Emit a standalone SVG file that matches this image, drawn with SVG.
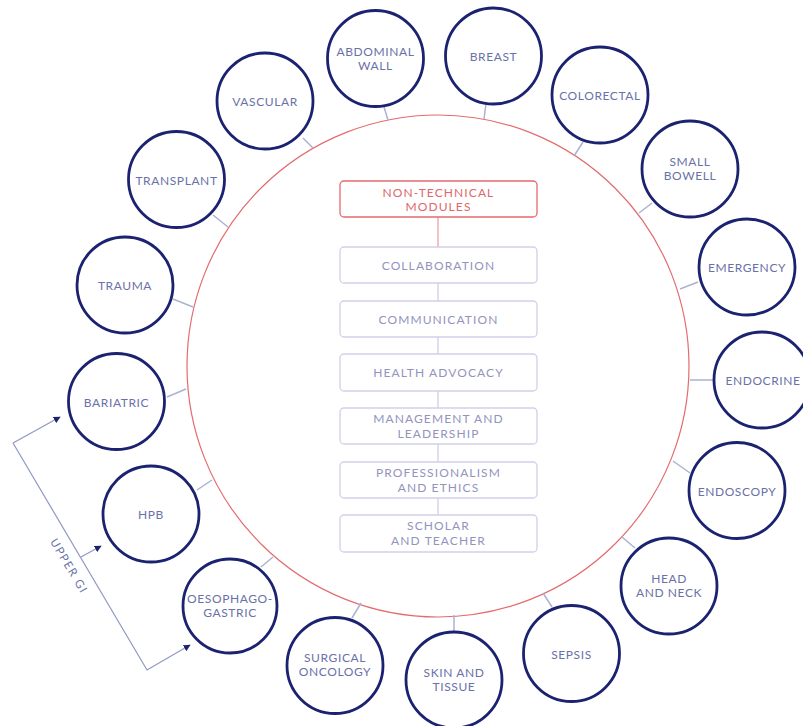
<svg xmlns="http://www.w3.org/2000/svg" width="803" height="726" viewBox="0 0 803 726">
<defs>
<style>
.bg{fill:#ffffff}
.ring{fill:none;stroke:#e46b6e;stroke-width:1.2}
.node circle{fill:#ffffff;stroke:#1b2270;stroke-width:2.8}
.node text{font-family:Lato,"Open Sans","Liberation Sans",sans-serif;font-size:12px;letter-spacing:0.6px;fill:#6a71a8;text-anchor:middle}
.spoke{stroke:#aab3d0;stroke-width:1.5;fill:none}
.box rect{fill:#ffffff;stroke:#d2d0e8;stroke-width:1.3}
.box text{font-family:Lato,"Open Sans","Liberation Sans",sans-serif;font-size:12px;letter-spacing:1.1px;fill:#9393be;text-anchor:middle}
.redbox rect{stroke:#e46b6e}
.redbox text{fill:#e0676b}
.link{stroke:#cfcde6;stroke-width:1.3}
.redlink{stroke:#eda0a3;stroke-width:1.3}
.bracket{stroke:#8f98c4;stroke-width:1.2;fill:none}
.blabel{font-family:Lato,"Open Sans","Liberation Sans",sans-serif;font-size:11.5px;letter-spacing:1.4px;fill:#6a71a8;text-anchor:middle}
</style>
<marker id="arr" viewBox="0 0 10 10" refX="9" refY="5" markerWidth="7" markerHeight="7" markerUnits="userSpaceOnUse" orient="auto">
<path d="M0,0 L10,5 L0,10 z" fill="#1b2270"/>
</marker>
</defs>
<rect class="bg" x="0" y="0" width="803" height="726"/>
<circle class="ring" cx="438" cy="366" r="251"/>
<g id="connectors">
<line class="spoke" x1="384" y1="107" x2="388" y2="120"/>
<line class="spoke" x1="486" y1="104" x2="484" y2="119"/>
<line class="spoke" x1="583" y1="142" x2="574" y2="156"/>
<line class="spoke" x1="303" y1="138" x2="313" y2="148"/>
<line class="spoke" x1="652" y1="203" x2="639" y2="213"/>
<line class="spoke" x1="698" y1="282" x2="680" y2="289"/>
<line class="spoke" x1="714" y1="380" x2="690" y2="380"/>
<line class="spoke" x1="690" y1="473" x2="673" y2="461"/>
<line class="spoke" x1="635" y1="548" x2="622" y2="537"/>
<line class="spoke" x1="552" y1="607" x2="543" y2="593"/>
<line class="spoke" x1="454" y1="632" x2="454" y2="615"/>
<line class="spoke" x1="352" y1="618" x2="361" y2="603"/>
<line class="spoke" x1="261" y1="567" x2="273" y2="557"/>
<line class="spoke" x1="197" y1="490" x2="212" y2="480"/>
<line class="spoke" x1="167" y1="397" x2="186" y2="389"/>
<line class="spoke" x1="173" y1="299" x2="193" y2="307"/>
<line class="spoke" x1="213" y1="215" x2="228" y2="227"/>
<line class="redlink" x1="438" y1="217" x2="438" y2="247"/>
<line class="link" x1="438" y1="283" x2="438" y2="301"/>
<line class="link" x1="438" y1="337" x2="438" y2="354"/>
<line class="link" x1="438" y1="391" x2="438" y2="408"/>
<line class="link" x1="438" y1="444" x2="438" y2="462"/>
<line class="link" x1="438" y1="498" x2="438" y2="515"/>
<polyline class="bracket" points="13,443 147,670 190,645" marker-end="url(#arr)"/>
<line class="bracket" x1="13" y1="443" x2="60" y2="417" marker-end="url(#arr)"/>
<line class="bracket" x1="81" y1="557" x2="101" y2="546" marker-end="url(#arr)"/>
</g>
<text class="blabel" transform="translate(69,566) rotate(59.4)" x="0" y="4">UPPER GI</text>
<g id="n-abdominal" class="node"><circle cx="375.5" cy="58.5" r="48"/><text x="375.5" y="56">ABDOMINAL</text><text x="375.5" y="70">WALL</text></g>
<g id="n-breast" class="node"><circle cx="493.5" cy="56" r="48"/><text x="493.5" y="61">BREAST</text></g>
<g id="n-colorectal" class="node"><circle cx="600" cy="95" r="48"/><text x="600" y="100">COLORECTAL</text></g>
<g id="n-smallbowell" class="node"><circle cx="690" cy="169" r="48"/><text x="690" y="166">SMALL</text><text x="690" y="180">BOWELL</text></g>
<g id="n-emergency" class="node"><circle cx="747" cy="267" r="48"/><text x="747" y="272">EMERGENCY</text></g>
<g id="n-endocrine" class="node"><circle cx="762" cy="380" r="48"/><text x="763" y="385">ENDOCRINE</text></g>
<g id="n-endoscopy" class="node"><circle cx="737" cy="490.5" r="48"/><text x="737" y="495.5">ENDOSCOPY</text></g>
<g id="n-headneck" class="node"><circle cx="669" cy="586" r="48"/><text x="669" y="583">HEAD</text><text x="669" y="597">AND NECK</text></g>
<g id="n-sepsis" class="node"><circle cx="571.5" cy="653.5" r="48"/><text x="571.5" y="658.5">SEPSIS</text></g>
<g id="n-skin" class="node"><circle cx="454" cy="680" r="48"/><text x="454" y="677">SKIN AND</text><text x="454" y="691">TISSUE</text></g>
<g id="n-oncology" class="node"><circle cx="335" cy="665.5" r="48"/><text x="335" y="662">SURGICAL</text><text x="335" y="676">ONCOLOGY</text></g>
<g id="n-oesophago" class="node"><circle cx="230" cy="606" r="47"/><text x="230" y="603">OESOPHAGO-</text><text x="230" y="617">GASTRIC</text></g>
<g id="n-hpb" class="node"><circle cx="151" cy="514" r="48"/><text x="151" y="519">HPB</text></g>
<g id="n-bariatric" class="node"><circle cx="116.5" cy="401.5" r="48"/><text x="116.5" y="406.5">BARIATRIC</text></g>
<g id="n-trauma" class="node"><circle cx="125" cy="285" r="48"/><text x="125" y="290">TRAUMA</text></g>
<g id="n-transplant" class="node"><circle cx="176.5" cy="179.5" r="48"/><text x="176.5" y="184.5">TRANSPLANT</text></g>
<g id="n-vascular" class="node"><circle cx="265" cy="101" r="48"/><text x="265" y="106">VASCULAR</text></g>
<g id="b-nontech" class="box redbox"><rect x="340" y="181" width="197" height="36" rx="4"/><text x="438.5" y="196.5">NON-TECHNICAL</text><text x="438.5" y="210.5">MODULES</text></g>
<g id="b-collab" class="box"><rect x="340" y="247" width="197" height="36" rx="4"/><text x="438.5" y="269.5">COLLABORATION</text></g>
<g id="b-comm" class="box"><rect x="340" y="301" width="197" height="36" rx="4"/><text x="438.5" y="323.5">COMMUNICATION</text></g>
<g id="b-health" class="box"><rect x="340" y="354" width="197" height="37" rx="4"/><text x="438.5" y="377">HEALTH ADVOCACY</text></g>
<g id="b-mgmt" class="box"><rect x="340" y="408" width="197" height="36" rx="4"/><text x="438.5" y="422.5">MANAGEMENT AND</text><text x="438.5" y="437.5">LEADERSHIP</text></g>
<g id="b-prof" class="box"><rect x="340" y="462" width="197" height="36" rx="4"/><text x="438.5" y="476.5">PROFESSIONALISM</text><text x="438.5" y="491.5">AND ETHICS</text></g>
<g id="b-scholar" class="box"><rect x="340" y="515" width="197" height="37" rx="4"/><text x="438.5" y="530">SCHOLAR</text><text x="438.5" y="545">AND TEACHER</text></g>
</svg>
